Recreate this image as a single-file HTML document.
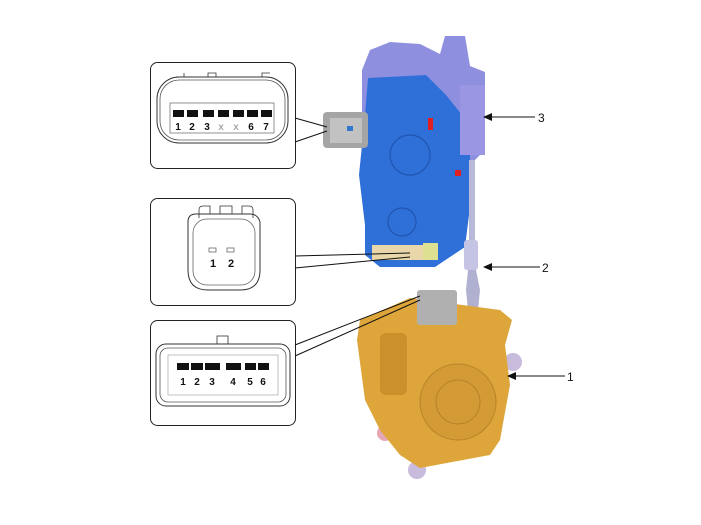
<!DOCTYPE html>
<html><head><style>
body{margin:0;background:#fff;width:701px;height:525px;overflow:hidden}
svg{display:block}
text{font-family:"Liberation Sans",Arial,sans-serif;font-weight:bold}
</style></head><body>
<svg width="701" height="525" viewBox="0 0 701 525" xmlns="http://www.w3.org/2000/svg">
<!-- Box 1 -->
<rect x="150.5" y="62.5" width="145" height="106" rx="7" fill="#fff" stroke="#222" stroke-width="1"/>
<path d="M176 77 h8 v-4 M208 77 v-4 h8 v4 M262 77 v-4 h8" fill="none" stroke="#333" stroke-width="0.8"/>
<rect x="157" y="77" width="131" height="66" rx="22" fill="none" stroke="#333"/>
<rect x="160" y="80" width="125" height="60" rx="19" fill="none" stroke="#555" stroke-width="0.8"/>
<rect x="170" y="103" width="104" height="30" fill="none" stroke="#777" stroke-width="0.8"/>
<g fill="#111"><rect x="173" y="110" width="11" height="7"/><rect x="187" y="110" width="11" height="7"/><rect x="203" y="110" width="11" height="7"/><rect x="218" y="110" width="11" height="7"/><rect x="233" y="110" width="11" height="7"/><rect x="247" y="110" width="11" height="7"/><rect x="261" y="110" width="11" height="7"/></g>
<g font-size="10" fill="#111" text-anchor="middle"><text x="178" y="130">1</text><text x="192" y="130">2</text><text x="207" y="130">3</text><text x="221" y="130" fill="#aaa" font-weight="normal">x</text><text x="236" y="130" fill="#aaa" font-weight="normal">x</text><text x="251" y="130">6</text><text x="266" y="130">7</text></g>
<!-- Box 2 -->
<rect x="150.5" y="198.5" width="145" height="107" rx="7" fill="#fff" stroke="#222"/>
<path d="M199 218 v-8 q0-4 4-4 h7 v8 M220 214 v-8 h12 v8 M242 214 v-8 h7 q4 0 4 4 v8" fill="none" stroke="#333" stroke-width="0.8"/>
<path d="M188 222 q0-8 8-8 h54 q8 0 10 8 v48 q0 20 -20 20 h-32 q-20 0 -20 -20 z" fill="none" stroke="#333"/>
<rect x="193" y="219" width="62" height="66" rx="14" fill="none" stroke="#666" stroke-width="0.8"/>
<rect x="209" y="248" width="7" height="4" fill="none" stroke="#555" stroke-width="0.7"/><rect x="227" y="248" width="7" height="4" fill="none" stroke="#555" stroke-width="0.7"/>
<text x="213" y="267" font-size="11" fill="#111" text-anchor="middle">1</text><text x="231" y="267" font-size="11" fill="#111" text-anchor="middle">2</text>
<!-- Box 3 -->
<rect x="150.5" y="320.5" width="145" height="105" rx="7" fill="#fff" stroke="#222"/>
<rect x="217" y="336" width="11" height="8" fill="none" stroke="#333" stroke-width="0.8"/>
<rect x="156" y="344" width="134" height="62" rx="10" fill="none" stroke="#333"/>
<rect x="160" y="348" width="126" height="54" rx="8" fill="none" stroke="#555" stroke-width="0.8"/>
<rect x="168" y="355" width="110" height="40" fill="none" stroke="#999" stroke-width="0.6"/>
<g fill="#111"><rect x="177" y="363" width="12" height="7"/><rect x="191" y="363" width="12" height="7"/><rect x="205" y="363" width="15" height="7"/><rect x="226" y="363" width="15" height="7"/><rect x="245" y="363" width="11" height="7"/><rect x="258" y="363" width="11" height="7"/></g>
<g font-size="10" fill="#111" text-anchor="middle"><text x="183" y="385">1</text><text x="197" y="385">2</text><text x="212" y="385">3</text><text x="233" y="385">4</text><text x="250" y="385">5</text><text x="263" y="385">6</text></g>
<!-- purple top -->
<path d="M362 70 l8 -20 l20 -8 l30 2 l20 10 l5 -18 l20 0 l5 30 l15 6 l0 78 l-20 20 l-50 0 l-53 -30 z" fill="#8f8fe0"/>
<!-- blue body -->
<path d="M368 78 l58 -3 l20 20 l24 30 l0 82 l-5 40 l-30 20 l-55 0 l-15 -12 l0 -30 l-6 -50 l6 -60 z" fill="#2f6fd8"/>
<path d="M460 85 h25 v70 h-25 z" fill="#9a96e4"/>
<circle cx="410" cy="155" r="20" fill="none" stroke="#1f55b0" stroke-width="1.2"/>
<circle cx="402" cy="222" r="14" fill="none" stroke="#1f55b0" stroke-width="1.2"/>
<rect x="428" y="118" width="5" height="12" fill="#e02020"/><rect x="455" y="170" width="6" height="6" fill="#e02020"/>
<path d="M372 245 h60 v15 h-60 z" fill="#e9d7a9"/>
<rect x="423" y="243" width="15" height="17" fill="#dde090"/>
<!-- gray connector -->
<rect x="323" y="112" width="45" height="36" rx="4" fill="#a5a5a5"/>
<rect x="330" y="118" width="32" height="25" fill="#c2c2c2"/>
<rect x="347" y="126" width="6" height="5" fill="#3377cc"/>
<!-- rod -->
<rect x="469" y="160" width="6" height="80" fill="#b8b8d8"/>
<rect x="464" y="240" width="14" height="30" rx="3" fill="#c5c4e4"/>
<path d="M468 270 h8 l4 20 l-2 20 h-10 l-2-20 z" fill="#b0b0d0"/>
<!-- yellow motor -->
<circle cx="513" cy="362" r="9" fill="#c8bbdc"/>
<circle cx="417" cy="470" r="9" fill="#c8bbdc"/>
<circle cx="385" cy="433" r="8" fill="#e5a6b5"/>
<path d="M360 320 l50 -22 l90 12 l12 10 l-7 25 l5 40 l-10 55 l-10 15 l-70 13 l-20 -13 l-20 -25 l-15 -30 l-8 -60 z" fill="#dea63a"/>
<rect x="380" y="333" width="27" height="62" rx="6" fill="#c9902c"/>
<circle cx="458" cy="402" r="38" fill="#d49a35" stroke="#b9822a"/>
<circle cx="458" cy="402" r="22" fill="none" stroke="#b9822a"/>
<rect x="417" y="290" width="40" height="35" rx="3" fill="#b0b0b0"/>
<!-- leader lines -->
<g stroke="#111" stroke-width="1" fill="none">
<path d="M295 118 L327 127 M295 142 L327 131"/>
<path d="M295 256 L410 253 M295 268 L410 257"/>
<path d="M295 345 L420 296 M295 356 L420 300"/>
<path d="M535 117 H487 M540 267 H487 M565 376 H511"/>
</g>
<g fill="#111"><path d="M483 117 l9 -4 v8 z"/><path d="M483 267 l9 -4 v8 z"/><path d="M507 376 l9 -4 v8 z"/></g>
<g font-size="12" fill="#111"><text x="538" y="122" style="font-weight:normal">3</text><text x="542" y="272" style="font-weight:normal">2</text><text x="567" y="381" style="font-weight:normal">1</text></g>
</svg>
</body></html>
